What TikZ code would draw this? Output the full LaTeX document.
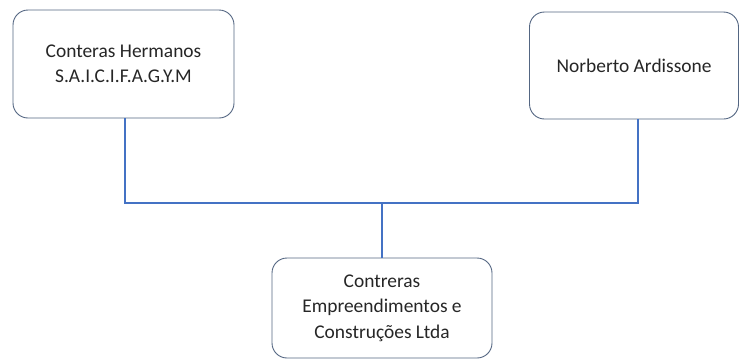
\documentclass[tikz,border=0pt]{standalone}
\usepackage{fontspec}
\setmainfont{Carlito}
\usetikzlibrary{positioning,calc}

\definecolor{boxline}{RGB}{84,102,130}
\definecolor{linkblue}{RGB}{68,114,196}
\definecolor{textgray}{RGB}{38,38,38}

\begin{document}
\begin{tikzpicture}[x=1bp, y=-1bp,
      every node/.append style={font=\fontsize{19.5}{25.5}\selectfont, text=textgray, align=center},
      org/.style={draw=boxline, line width=0.9bp, rounded corners=15bp, fill=white, inner sep=0pt},
      link/.style={draw=linkblue, line width=2bp}]
    \useasboundingbox (0,0) rectangle (740,360);
    \node (CH) [org, minimum width=221bp, minimum height=108bp] at (123.5,64) {Conteras Hermanos\\S.A.I.C.I.F.A.G.Y.M};
    \node (NA) [org, minimum width=209bp, minimum height=107bp] at (634,65.5) {Norberto Ardissone};
    \node (CE) [org, minimum width=220bp, minimum height=100bp] at (382,308) {Contreras\\Empreendimentos e\\Construções Ltda};
    \coordinate (J) at (382,203);
    % connectors
    \draw [link] ([xshift=1.5bp]CH.south) |- (J) -| ([xshift=4bp]NA.south);
    \draw [link] (J) -- (CE.north);
  \end{tikzpicture}
\end{document}
